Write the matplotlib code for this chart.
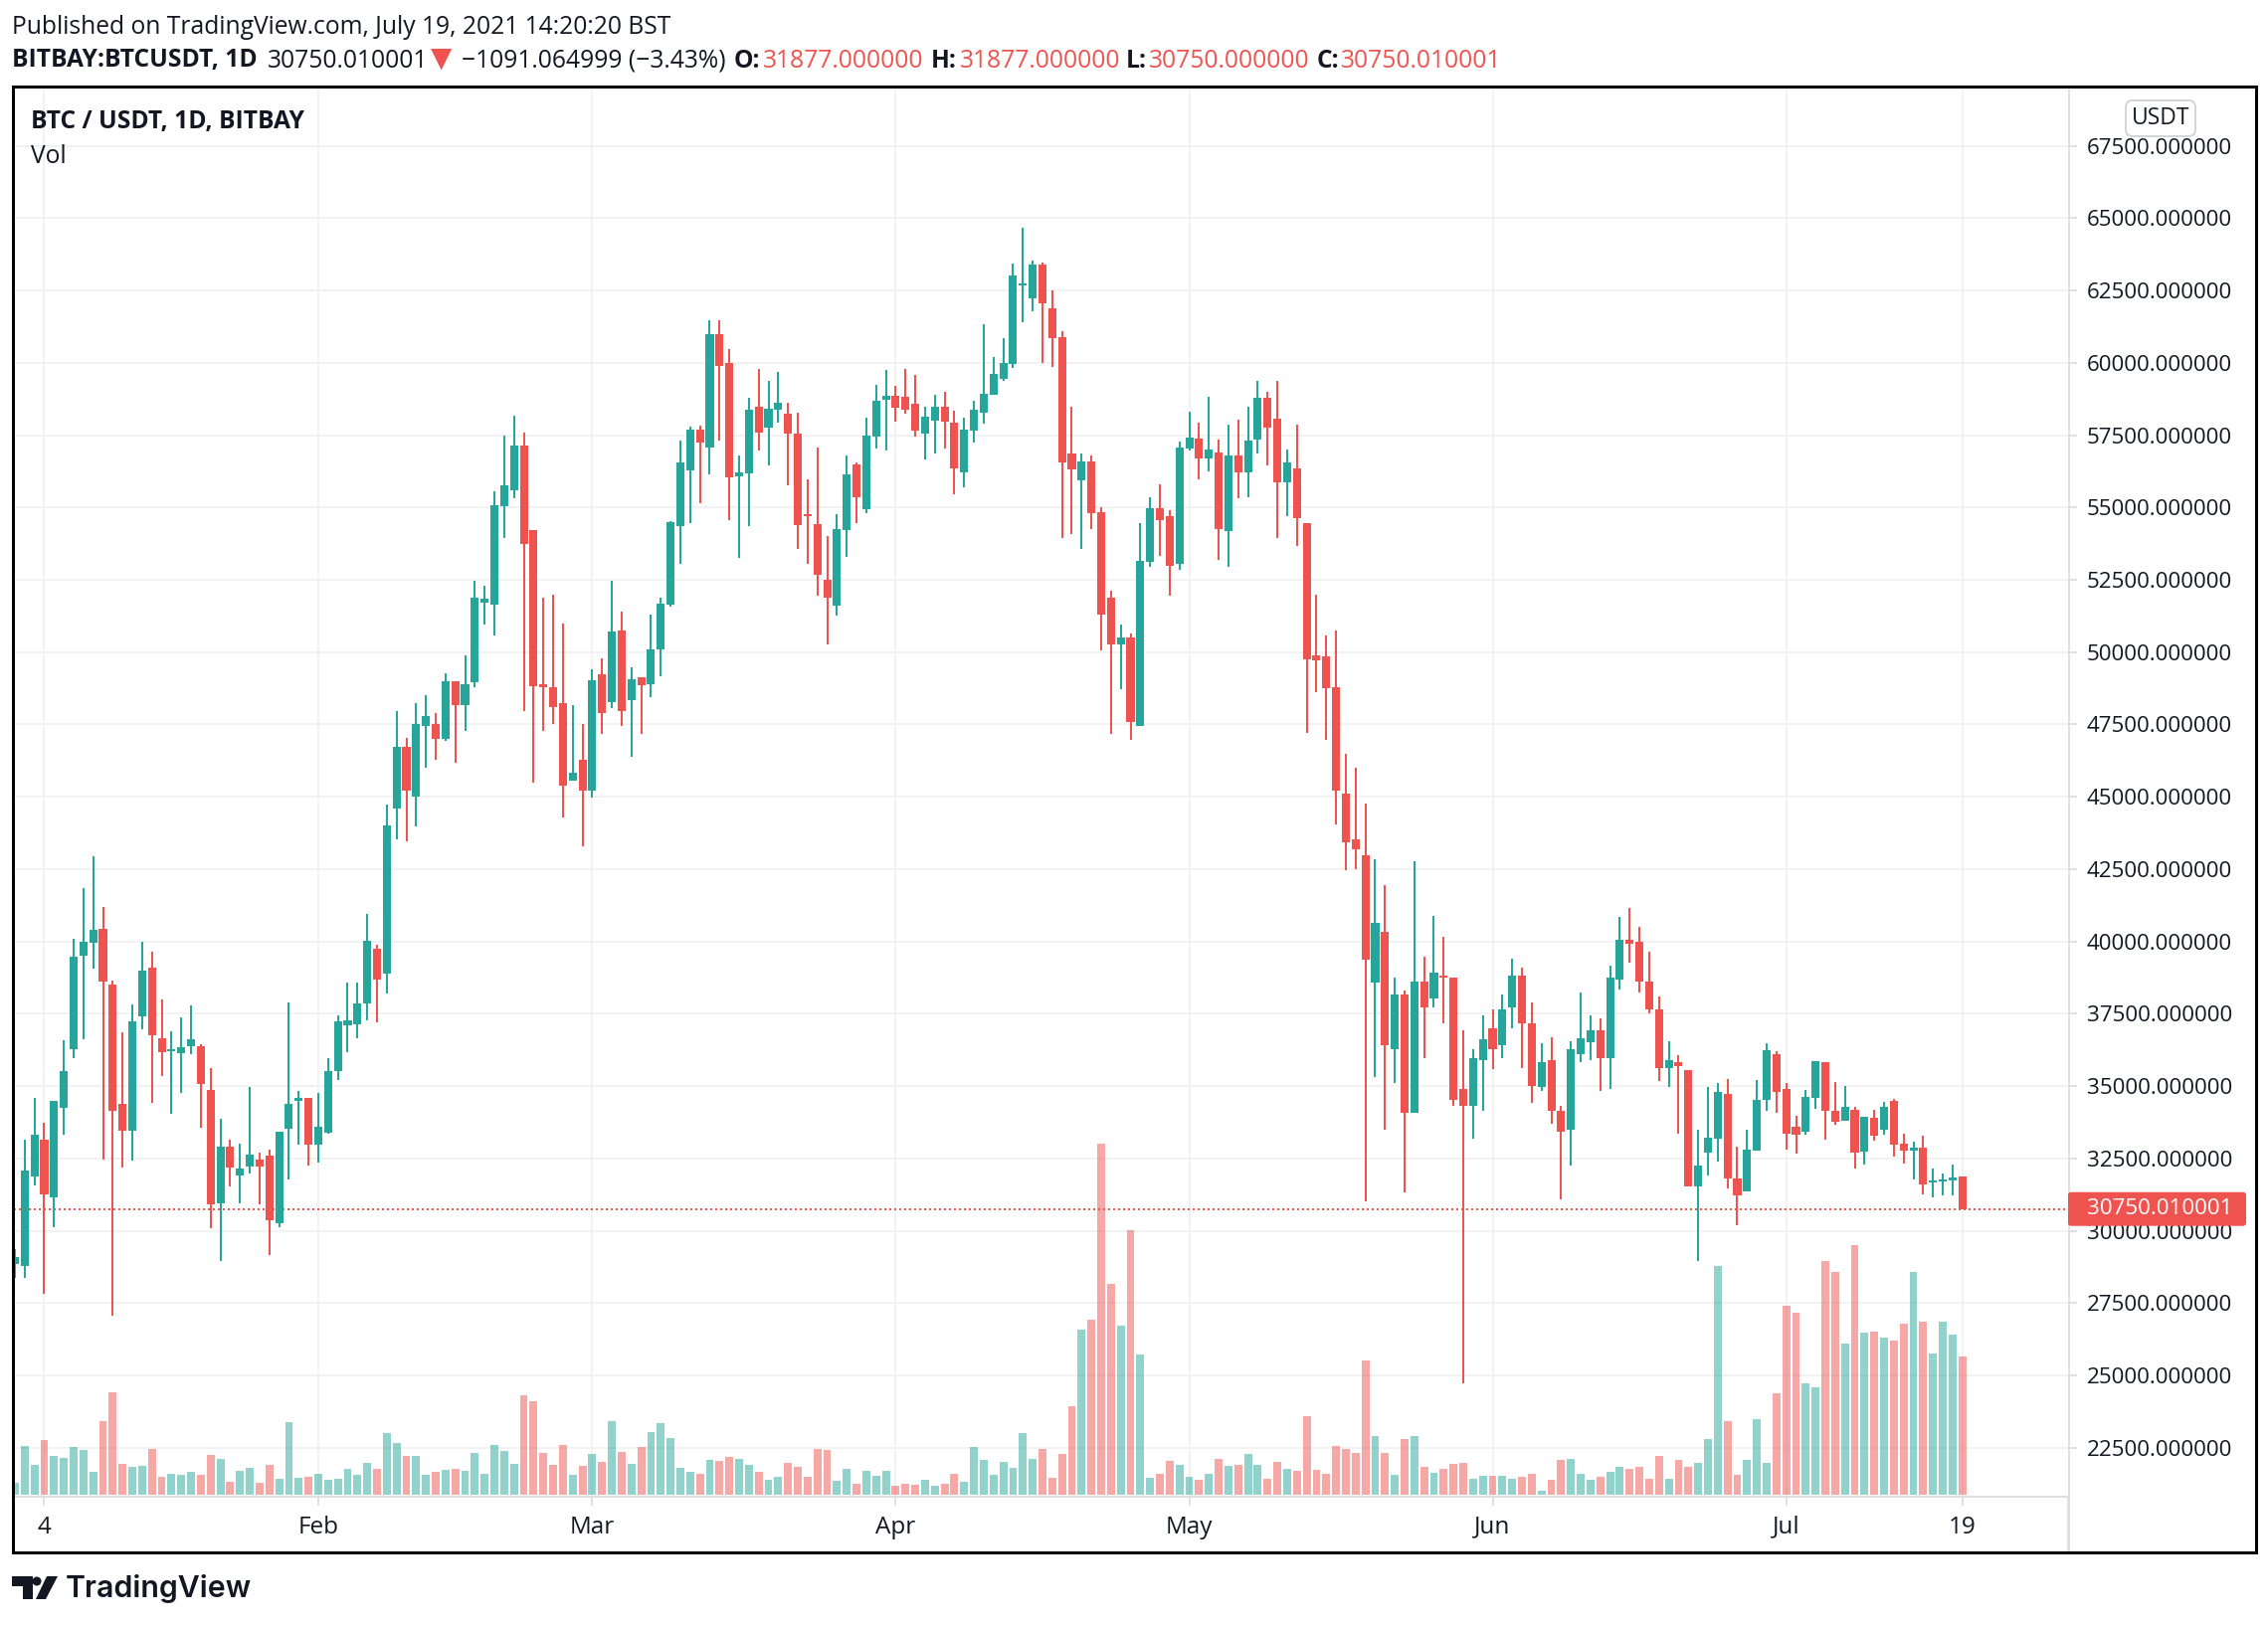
import matplotlib
matplotlib.use("Agg")
import matplotlib.pyplot as plt
from matplotlib.patches import Rectangle, FancyBboxPatch, Polygon, Circle
from matplotlib.ticker import FixedLocator, FixedFormatter

opens = [28850,28792,31891,33136,31167,34236,36278,39507,39956,40434,
38508,34381,33454,37407,39087,36654,36206,36133,36379,36379,
34859,30935,32904,31905,32209,32455,32586,30254,33527,34482,
34584,32977,33382,35511,37103,37132,37856,39753,38884,44599,
46739,44992,47435,47500,46988,49010,48157,48971,51715,51649,
55050,55601,57138,54223,48905,48800,48222,45544,46292,45202,
49220,48288,50756,48327,49115,48905,50100,51649,54367,56284,
57689,57072,60985,60011,56088,56191,58497,57774,58393,58256,
57567,54757,54436,52509,51615,54230,56501,54952,57464,58737,
58875,58841,58600,57567,58015,58497,57946,56225,57671,58290,
58909,59460,59976,62660,62213,63383,61869,60905,56879,55950,
56600,54844,51885,50276,50510,47452,53125,54980,54709,53052,
57043,57386,56699,56907,54194,56809,56220,57350,58799,58074,
55876,56355,54464,49896,49859,48795,45113,43530,42962,38586,
40339,36289,38178,34087,38626,38042,38803,38762,34916,34332,
35881,37009,36398,37729,38803,37186,34971,35881,34128,33503,
36112,36533,36941,35976,38694,40040,39999,38626,37661,35636,
35813,35569,31546,32715,33190,34712,31818,31352,32762,34517,
36100,34896,33588,33416,34586,35825,34139,33795,34173,32728,
33898,33485,34483,33003,32762,32866,31661,31696,31742,31877]
highs = [29371,33136,34584,33715,34482,36582,40086,41838,42953,41187,
38653,36857,37827,39985,39637,37987,36886,37378,37784,36437,
35612,33860,33136,33006,34960,32701,32803,33411,37885,34830,
34584,34758,35959,37436,38580,38580,40955,39884,44734,47973,
47037,48249,48498,47907,49286,49010,49903,52477,52306,55562,
57479,58175,57584,54223,51886,51991,50993,48183,47500,49417,
49798,52477,51413,49483,49141,51308,51886,54538,57308,57794,
57820,61471,61471,60492,56810,58806,59804,59391,59701,58634,
58290,55985,57086,54023,54780,56810,56570,58118,59254,59770,
59219,59804,59598,58497,58909,59013,58359,58118,58703,61353,
60217,60871,63417,64656,63520,63452,62488,61112,58497,56871,
56809,55016,52131,50964,50645,54464,55360,55802,54918,57288,
58320,57939,58835,57350,57865,58037,58492,59388,59007,59388,
57006,57865,54464,51995,50583,50756,46489,46008,44783,42853,
41956,38762,38314,42785,39482,40896,40176,38762,36941,36289,
37458,37661,38151,39415,39102,37906,36465,36697,34332,36561,
38219,37458,37349,39170,40855,41168,40488,39659,38083,36561,
36085,35569,33503,34984,35120,35256,32918,33485,35206,36479,
36203,35102,33967,34861,35859,35825,35137,34999,34276,33932,
34173,34449,34552,33347,33072,33279,32143,31971,32281,31877]
lows = [28357,28357,31572,27822,30124,33310,35959,36611,39058,32455,
27054,32180,32426,36959,34410,35337,34034,34758,36104,33556,
30081,28951,31529,30935,31977,30906,29154,30110,31760,32977,
32253,32354,33353,35206,36162,36654,37277,37205,38204,43522,
43460,43968,45990,46266,46949,46161,47290,48800,50966,50586,
53947,55326,47973,45478,47290,47526,44270,45544,43272,44966,
47185,48078,47461,46371,47185,48459,49181,51584,53054,54459,
55155,56140,57308,54574,53266,54367,56982,56466,57946,55778,
53576,53060,51959,50273,51270,53301,54471,54815,57051,56982,
57980,58256,57464,56673,56879,57051,55468,55709,57258,57912,
58909,59391,59838,61421,61800,60011,59873,53954,54092,53567,
54255,50068,47182,48729,46973,47452,52953,53334,51959,52855,
56981,55974,56257,53199,52953,55323,55360,56871,56465,53948,
54709,53678,47206,48618,46973,44046,42463,42498,31029,35324,
33476,35093,31342,34087,35976,37702,37186,34332,24737,33190,
34155,35596,35949,37009,35636,34427,34848,33680,31070,32239,
35840,35908,34848,34916,38354,39279,38246,37525,35161,34984,
33367,31546,28937,31926,32402,31478,30200,31352,32762,34139,
34070,32797,32659,33310,34208,33141,33657,33795,32143,32281,
33107,33310,32556,32315,31765,31248,31145,31214,31214,30750]
closes = [29081,32079,33310,31253,34482,35511,39478,39985,40405,38609,
34135,33454,37234,38986,36756,36162,36278,36336,36611,35062,
30906,32904,32180,32151,32629,32209,30356,33411,34381,34584,
32977,33585,35511,37234,37277,37856,40028,38682,44010,46739,
45212,47500,47776,47014,49010,48157,48905,51886,51859,55076,
55772,57138,53750,48839,48774,48117,45399,45820,45202,49036,
47894,50730,47947,49076,48866,50100,51689,54499,56560,57689,
57243,60985,59882,56053,56225,58393,57602,58428,58634,57567,
54402,54700,52681,51890,54264,56157,55365,57499,58703,58875,
58462,58393,57671,58152,58497,57980,56363,57705,58393,58944,
59632,60011,63004,62729,63383,62075,60871,56570,56329,56600,
54808,51308,50276,50510,47587,53162,54980,54574,52990,57079,
57423,56699,57006,54255,56809,56220,57325,58799,57767,55876,
56564,54636,49761,49724,48754,45216,43427,43186,39360,40624,
36398,38178,34060,38626,37702,38939,38735,34509,34332,35976,
36629,36262,37634,38803,37186,35011,35813,34128,33408,36289,
36669,36941,35976,38762,40040,39931,38626,37634,35636,35908,
35677,31546,32239,33231,34807,31791,31233,32797,34517,36238,
34793,33347,33310,34621,35859,34139,33760,34276,32694,33932,
33279,34276,32969,32762,32866,31593,31730,31776,31833,30750.010001]
# Relative volume read off the lower pane (no scale is printed for it).
volumes = [12,49,30,55,39,37,48,45,23,74,
103,31,28,29,46,18,21,20,23,20,
40,36,13,24,27,12,30,16,73,17,
18,21,15,16,26,20,32,26,62,52,
39,39,20,23,25,26,24,42,21,50,
44,31,100,94,42,30,50,20,29,41,
33,74,43,31,48,63,72,57,27,23,
21,35,34,38,36,30,23,15,18,32,
28,18,46,45,14,26,11,24,19,24,
9,11,10,15,9,11,21,13,48,35,
20,33,27,62,36,46,17,41,89,166,
176,353,212,170,266,141,17,21,34,30,
18,15,21,36,29,30,41,30,16,33,
26,24,79,25,21,49,46,42,135,59,
42,20,56,59,28,22,26,31,32,16,
19,19,19,16,18,21,4,15,35,36,
21,15,18,23,28,26,28,16,39,16,
35,28,32,56,230,74,20,35,76,32,
102,190,183,112,108,235,224,152,251,163,
164,158,155,172,224,174,142,174,161,139]

price_ticks = list(range(22500, 67501, 2500))
date_ticks = [3, 31, 59, 90, 120, 151, 181, 199]
date_labels = ["4", "Feb", "Mar", "Apr", "May", "Jun", "Jul", "19"]

UP, DOWN = "#26a69a", "#ef5350"
INK, GRID, AXIS = "#131722", "#f2f2f2", "#e0e0e0"
W, H = 2280, 1634
L, R, T, B = 14, 2079, 87, 1504
FONT = "Open Sans"
FS = 16.1
FS_HEAD = 17.7
plt.rcParams["font.family"] = [FONT, "DejaVu Sans"]

fig = plt.figure(figsize=(W / 100, H / 100), dpi=100, facecolor="white")
rect = [L / W, 1 - B / H, (R - L) / W, (B - T) / H]
ax_vol = fig.add_axes(rect, zorder=1)
ax = fig.add_axes(rect, zorder=2)
ax.patch.set_visible(False)

XLIM = (-0.1, 209.8)
YLIM = (20840, 69552)
PX = 0.72  # points per pixel at dpi 100
n = range(len(closes))
colors = [UP if c >= o else DOWN for o, c in zip(opens, closes)]

# volume pane
ax_vol.set_xlim(*XLIM)
ax_vol.set_ylim(-1, B - T - 1)
ax_vol.set_xticks(date_ticks)
ax_vol.set_yticks([(p - YLIM[0]) / (YLIM[1] - YLIM[0]) * (B - T) - 1 for p in price_ticks])
ax_vol.grid(True, color=GRID, linewidth=2 * PX)
ax_vol.set_axisbelow(True)
ax_vol.tick_params(length=0, labelbottom=False, labelleft=False)
for s in ax_vol.spines.values():
    s.set_visible(False)
ax_vol.bar(list(n), volumes, width=0.8, color=colors, alpha=0.5, linewidth=0)

# candles
ax.set_xlim(*XLIM)
ax.set_ylim(*YLIM)
ax.axhline(closes[-1], color=DOWN, linewidth=2 * PX, linestyle=(0, (1, 1.5)), zorder=1)
ax.vlines(list(n), lows, highs, colors=colors, linewidth=2 * PX, zorder=2)
body_bottom = [min(o, c) for o, c in zip(opens, closes)]
body_height = [abs(o - c) for o, c in zip(opens, closes)]
ax.bar(list(n), body_height, bottom=body_bottom, width=0.82, color=colors, linewidth=0, zorder=3)

for s in ax.spines.values():
    s.set_visible(False)
ax.yaxis.tick_right()
ax.yaxis.set_major_locator(FixedLocator(price_ticks))
ax.yaxis.set_major_formatter(FixedFormatter([f"{p:.6f}" for p in price_ticks]))
ax.xaxis.set_major_locator(FixedLocator(date_ticks))
ax.xaxis.set_major_formatter(FixedFormatter(date_labels))
ax.tick_params(axis="y", length=9 * PX, width=2 * PX, color=AXIS, labelcolor=INK, labelsize=FS, pad=7)
ax.tick_params(axis="x", length=10 * PX, width=2 * PX, color=AXIS, labelcolor=INK, labelsize=17.5, pad=7)

fig.add_artist(plt.Line2D([L / W, R / W], [1 - B / H] * 2, color=AXIS, linewidth=3 * PX, zorder=1))
fig.add_artist(plt.Line2D([R / W] * 2, [1 - T / H, 1 - 1561 / H], color=AXIS, linewidth=3 * PX, zorder=1))

def ptext(x, y, s, **kw):
    kw.setdefault("va", "center")
    kw.setdefault("fontsize", FS_HEAD)
    kw.setdefault("color", INK)
    kw.setdefault("zorder", 10)
    return fig.text(x / W, 1 - y / H, s, **kw)

ptext(12, 27, "Published on TradingView.com, July 19, 2021 14:20:20 BST")
ptext(12, 61, "BITBAY:BTCUSDT, 1D", fontweight="bold")
ptext(269, 61, "30750.010001")
ptext(444, 59, "▼", color=DOWN, family="DejaVu Sans", ha="center", fontsize=20)
ptext(464, 61, "−1091.064999 (−3.43%)")
for lx, lab, vx, val in [(738, "O:", 767, "31877.000000"), (936, "H:", 965, "31877.000000"),
                         (1132, "L:", 1155, "30750.000000"), (1324, "C:", 1348, "30750.010001")]:
    ptext(lx, 61, lab, fontweight="bold")
    ptext(vx, 61, val, color=DOWN)
ptext(31, 123, "BTC / USDT, 1D, BITBAY", fontweight="bold")
ptext(31, 158, "Vol")

# last price tag and USDT button sit above the axis
yc = T + (YLIM[1] - closes[-1]) / (YLIM[1] - YLIM[0]) * (B - T)
overlay = fig.add_axes([0, 0, 1, 1], zorder=5)
overlay.set_xlim(0, W)
overlay.set_ylim(H, 0)
overlay.axis("off")
overlay.add_patch(FancyBboxPatch((R, yc - 17), 179, 34, boxstyle="round,pad=0,rounding_size=3",
                                 facecolor=DOWN, edgecolor="none"))
overlay.text(2098, yc, f"{closes[-1]:.6f}", color="white", fontsize=FS, va="center")
overlay.add_patch(FancyBboxPatch((2137, 101), 70, 36, boxstyle="round,pad=0,rounding_size=7",
                                 facecolor="white", edgecolor="#d4d4d4", linewidth=1.4))
overlay.text(2172, 118.5, "USDT", color=INK, fontsize=16.5, ha="center", va="center")

# frame
overlay.add_patch(Rectangle((13, 87), 2255, 1474, fill=False, edgecolor="black",
                            linewidth=3 * PX, clip_on=False))

# TradingView logo
overlay.add_patch(Polygon([(12, 1585), (33, 1585), (33, 1608), (23, 1608), (23, 1595), (12, 1595)],
                          facecolor=INK, edgecolor="none"))
overlay.add_patch(Circle((37, 1590), 4.5, facecolor=INK, edgecolor="none"))
overlay.add_patch(Polygon([(47, 1585), (58, 1585), (46, 1608), (36, 1608)], facecolor=INK, edgecolor="none"))
overlay.text(66, 1597, "TradingView", color=INK, fontsize=21.8, fontweight="semibold",
             family="Inter", va="center")

fig.savefig("out.png", dpi=100, facecolor="white")
